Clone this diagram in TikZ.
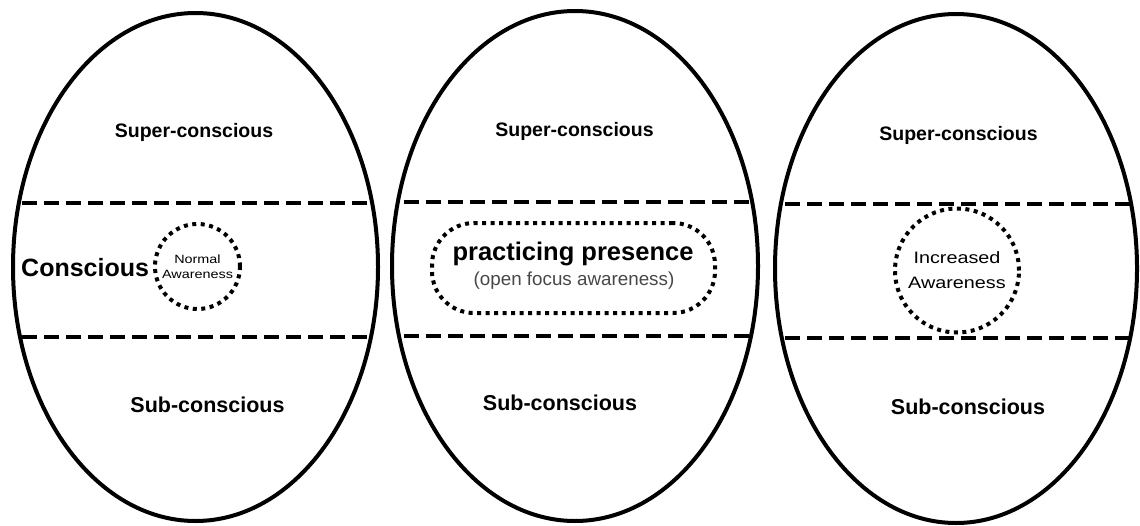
\documentclass[tikz,border=0pt]{standalone}
\usepackage{fontspec}
\usepackage{graphicx}
\setmainfont{Liberation Sans}
\usetikzlibrary{shapes.geometric}
\newcommand\widen[1]{\scalebox{1.2}[1]{#1}}
\tikzset{
  egg/.style={draw, ellipse, line width=4pt, inner sep=0pt},
  divider/.style={line width=4pt, dash pattern=on 15pt off 7pt},
  dotring/.style={draw, line width=4pt, dash pattern=on 4pt off 4.5pt},
  zone/.style={font=\bfseries\fontsize{19.5}{22}\selectfont},
  subzone/.style={font=\bfseries\fontsize{21.5}{24}\selectfont},
}
\begin{document}
\begin{tikzpicture}[x=1pt,y=-1pt]
\useasboundingbox (0,0) rectangle (1140,525);
% ellipses
\node[egg, minimum width=365pt, minimum height=508pt] (e1) at (195.5,267) {};
\node[egg, minimum width=366pt, minimum height=510pt] (e2) at (575,266) {};
\node[egg, minimum width=362pt, minimum height=509pt] (e3) at (956,268.5) {};
% dividers
\draw[divider] (22,203) -- (370,203);
\draw[divider] (22,337) -- (370,337);
\draw[divider] (404,202) -- (750,202);
\draw[divider] (404,336) -- (750,336);
\draw[divider] (785,204) -- (1133,204);
\draw[divider] (785,338) -- (1133,338);
% zone labels
\node[zone] (sup1) at (194,132) {Super-conscious};
\node[zone] (sup2) at (574.5,131) {Super-conscious};
\node[zone] (sup3) at (958.5,135) {Super-conscious};
\node[subzone] (sub1) at (207.5,405) {Sub-conscious};
\node[subzone] (sub2) at (560,403) {Sub-conscious};
\node[subzone] (sub3) at (968,407) {Sub-conscious};
\node[anchor=west, inner sep=0pt, font=\bfseries\fontsize{25}{28}\selectfont] (con) at (21,268) {Conscious};
% awareness shapes
\node[dotring, circle, minimum size=85pt, inner sep=0pt, align=center,
      font=\fontsize{12}{14}\selectfont] (na) at (197.5,266.5) {\widen{Normal}\\[1pt]\widen{Awareness}};
\node[dotring, rounded corners=42pt, minimum width=283pt, minimum height=90pt, inner sep=0pt] (pp) at (573.5,268) {};
\node[font=\bfseries\fontsize{25.5}{28}\selectfont] (ppt) at (573,254) {practicing presence};
\node[font=\fontsize{18.8}{22}\selectfont, text=black!72] (ppf) at (574,281) {(open focus awareness)};
\node[dotring, circle, minimum size=124pt, inner sep=0pt, align=center,
      font=\fontsize{16.5}{25}\selectfont] (ia) at (957,270.5) {\widen{Increased}\\\widen{Awareness}};
\end{tikzpicture}
\end{document}
